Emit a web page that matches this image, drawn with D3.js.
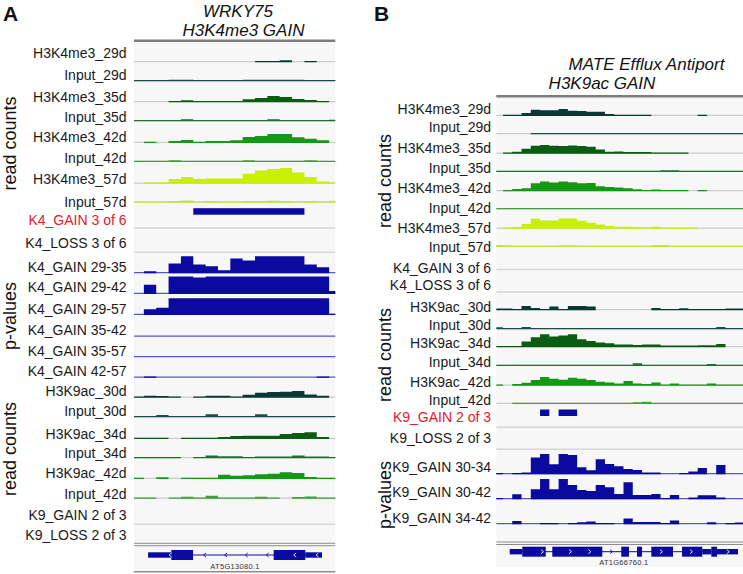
<!DOCTYPE html>
<html><head><meta charset="utf-8">
<script src="https://cdn.jsdelivr.net/npm/d3@7"></script>
<style>html,body{margin:0;padding:0;background:#fff}svg{display:block}</style>
</head><body><svg id="c" width="743" height="574"></svg>
<script>
// ---------------- DATA : panel A (WRKY75), 17 genomic bins ----------------
const binEdgesA = [0].concat(d3.range(80, 1630, 100), [1630]);
const A_K4_29 = [0,0,0,0,0,0,0,0,0,0,1,1,2,0,1,0,0];
const A_In_29 = [1,1,1,1.5,1.5,1,1,1,1,1.5,1.5,1.5,1.5,1.5,1,1,1];
const A_K4_35 = [0,0,0,1,2,1,1.3,0.7,1.3,3,4.3,6.3,5.3,3.3,2.3,1,0];
const A_In_35 = [1,1,1,1,2,1,1,1,1,1,1,2,1,1,1,1,1.5];
const A_K4_42 = [0,1,0,2,3,1.3,2,2,2.7,6,7,9,9,5.7,4.3,2.7,0];
const A_In_42 = [1,1,1,1.7,1,1,1,1,1,1.7,1,1,1,1,1.7,1,1];
const A_K4_57 = [0,1,1,4.7,6.7,4.7,5.3,5.3,5.3,10,13.3,14.7,15.7,11.3,6.7,2.3,1];
const A_In_57 = [1.3,1.3,1.3,1.7,2.3,1.3,1.7,1.3,1.3,1.7,1.7,2,1.7,1.3,1.7,1.3,2];
const A_P_29_35 = [0,2,0,9.7,17,8.7,7,3,14.7,12.7,17,17,17,17,8.7,6,0];
const A_P_29_42 = [0,9.3,0,17.5,17.5,16.5,17.5,17.5,17.5,17.5,17.5,17.5,17.5,17.5,17.5,17.5,3];
const A_P_29_57 = [0,5.7,7.3,16.7,16.7,16.7,16.7,16.7,16.7,16.7,16.7,16.7,16.7,16.7,16.7,16.7,1];
const A_P_35_42 = [0,0,0,0,0,0,0,0,0,0,0,0,0,0,0,0,0];
const A_P_35_57 = [0,0,0,0,0,0,0,0,0,0,0,0,0,0,0,0,0];
const A_P_42_57 = [0,1.3,0,0,0,0,0,0,0,0,0,0,0,0,0,0.7,0];
const A_K9_30 = [1,2,1.7,1,0,1,2,2,1.3,3,5,5.7,6,6.7,3.3,2,0];
const A_In_30 = [1,1,2.3,1,1,0.7,3,1,1,1,3,1,1.3,1.3,1.3,1.3,1];
const A_K9_34 = [0.7,0.7,0.7,0,1,1.3,1,2,3,3.3,3.3,3.3,5,6,6.7,2,0];
const A_In_34 = [1,1.3,1.3,1.3,0,1,2.7,2,2,1.3,1.7,1.7,1.7,2.7,1.7,1.7,1];
const A_K9_42 = [0.7,0,1.7,0,1,1,1,4.3,3.3,3.7,4.7,5.3,6.7,6,2,1,0.7];
const A_In42_K9 = [1,1,0,1,2,1.3,3,0.7,0.7,0.7,2,0.7,0,1.7,2.3,1,0.7];
const A_K4_GAIN_regions = [[480,1380]];
const geneA = {name:"AT5G13080.1", thin:[[114,302],[1387,1522]], thick:[[302,478],[1131,1387]], span:[114,1522], strand:-1,
  arrows:[294,573,744,911,1081,1303,1484]};

const trackNamesA = ["H3K4me3_29d","Input_29d","H3K4me3_35d","Input_35d","H3K4me3_42d","Input_42d","H3K4me3_57d","Input_57d",
  "K4_GAIN 3 of 6","K4_LOSS 3 of 6","K4_GAIN 29-35","K4_GAIN 29-42","K4_GAIN 29-57","K4_GAIN 35-42","K4_GAIN 35-57","K4_GAIN 42-57",
  "H3K9ac_30d","Input_30d","H3K9ac_34d","Input_34d","H3K9ac_42d","Input_42d","K9_GAIN 2 of 3","K9_LOSS 2 of 3"];
const trackValuesA = [A_K4_29,A_In_29,A_K4_35,A_In_35,A_K4_42,A_In_42,A_K4_57,A_In_57,
  A_K4_GAIN_regions,[],A_P_29_35,A_P_29_42,A_P_29_57,A_P_35_42,A_P_35_57,A_P_42_57,
  A_K9_30,A_In_30,A_K9_34,A_In_34,A_K9_42,A_In42_K9,[],[]];

// ---------------- DATA : panel B (MATE efflux), 27 genomic bins ----------------
const binEdgesB = [0].concat(d3.range(72, 2661, 100), [2661]);
const B_K4_29 = [0,0.7,1.3,3,6.3,5.7,5.7,7,5.3,5,4.3,4.3,2,1,0.7,0.7,0.7,0,0,0,0,0,1,0,0,0,0];
const B_In_29 = [0,0,0,0,1,1,0.7,0.7,0.7,0.7,0.7,0.7,0.7,0.7,0.7,0.7,0.7,0.7,0.7,0.7,0.7,0.7,0.7,0.7,0.7,0.7,1.3];
const B_K4_35 = [0,0.7,2,5,8,8.7,8,7.7,8.3,7.7,7,4.3,2,2.3,1.7,1.7,1.7,1,0.7,0.7,1.3,0,0,0,0,0,0];
const B_In_35 = [1,1,0.7,0.7,0.7,0.7,0.7,1.3,1.3,1.3,1.3,0.7,1.3,0.7,0.7,0.7,0.7,0.7,1.7,1.7,0.7,0.7,0.7,0.7,0.7,0.3,1];
const B_K4_42 = [0,0.7,2.3,3,8,9.7,8.7,9.7,9,8,8.3,5,4.3,3.7,3,2,1.3,1.7,1,0.7,0.7,0,0.7,0,0,0,0];
const B_In42_K4 = [0.7,1.3,0.7,0.7,1.3,1.3,0.7,0.7,0.7,0.7,0.7,0.7,0.7,0.7,0.7,0.7,0.7,0.7,0.7,0.7,0.7,0.7,0.7,0.7,0.7,1.3,0.7];
const B_K4_57 = [0,0.7,1.7,4.7,10,8.3,8.3,10.3,10.3,8,6,4.3,2.7,2,2,1.7,1.3,2,1,0.7,0.3,1,0,0,0,0,0];
const B_In_57 = [2,1.7,0.7,1,1.3,1,1.3,1.7,1.7,1.3,1.3,1,1,1,1,1.3,1.3,2,2,1.3,1.3,1.3,1.3,1,1,1,1];
const B_K9_30 = [1.7,1.7,0.7,4.3,2.3,1,3.7,1,4.3,4.3,3.7,0,0,0,0,0,0,2.3,1.3,1.3,2,0.7,0.3,0.7,1,1.7,1.7];
const B_In_30 = [2,1,1,2.3,1,1,1,1,1,1,1,1,1,1,1,1,1,1,1,1,1,1,1,1,2.3,1.3,1];
const B_K9_34 = [1.3,0.3,1,5.7,10,13,10.7,11.7,13,8,6.3,4.7,4,2.7,2.7,2.3,2.7,2.7,1.7,1.7,1.7,1.7,2,2,3.3,0,0];
const B_In_34 = [0.7,0.7,1.3,0.7,0.7,0.7,0.7,0.7,1.3,0.7,0.7,0.7,0.7,0.7,0.7,2.7,0.7,0.7,0.7,1.3,0.7,0.7,0.7,2,0.7,0.7,1.3];
const B_K9_42 = [1.3,0,1.7,3,5.7,8.7,7,6,8,7,5.7,4,3.3,2.3,4.7,2.3,1.7,3.3,1.3,2.3,1.3,1,1.3,2.3,1,0.7,0.7];
const B_In42_K9 = [0,0,0.7,0.7,1,0.7,0.7,0.7,0.7,0.7,0.7,1,0.7,1.3,0.7,1.7,2.3,0.7,0.7,0.7,1.3,1.3,0.7,0.7,0.7,0.7,0.7];
const B_P_30_34 = [1,0,1,1.7,16.7,20.3,10,20.3,19.3,7,4,15,10.3,8,5.3,4.3,1.7,1.7,0,0,1,2.7,6.3,0,9.3,0,0];
const B_P_30_42 = [0.7,0,5,0,10,20.3,10,20.3,14.3,9.3,8.3,14.3,12,5.3,17,4.3,4.3,5.3,0.7,4.3,0,1.7,4,4,1.7,0,0];
const B_P_34_42 = [0,0,3.3,0,0,0.7,1.3,0,1,2,2.7,0.7,1.3,0,5.7,2.3,2.3,2.3,1.3,3.7,0,0,0,2,0,1,1.7];
const B_K9_GAIN_regions = [[472,572],[672,872]];
const geneB = {name:"AT1G66760.1", thin:[[145,280],[2222,2319],[2381,2607]],
  thick:[[280,533],[604,1143],[1348,1431],[1518,1572],[1672,1906],[2003,2222],[2319,2381]], span:[145,2607], strand:1,
  arrows:[496,798,1007,1240,1779,2103,2500]};

const trackNamesB = ["H3K4me3_29d","Input_29d","H3K4me3_35d","Input_35d","H3K4me3_42d","Input_42d","H3K4me3_57d","Input_57d",
  "K4_GAIN 3 of 6","K4_LOSS 3 of 6","H3K9ac_30d","Input_30d","H3K9ac_34d","Input_34d","H3K9ac_42d","Input_42d",
  "K9_GAIN 2 of 3","K9_LOSS 2 of 3","K9_GAIN 30-34","K9_GAIN 30-42","K9_GAIN 34-42"];
const trackValuesB = [B_K4_29,B_In_29,B_K4_35,B_In_35,B_K4_42,B_In42_K4,B_K4_57,B_In_57,
  [],[],B_K9_30,B_In_30,B_K9_34,B_In_34,B_K9_42,B_In42_K9,
  B_K9_GAIN_regions,[],B_P_30_34,B_P_30_42,B_P_34_42];

// ---------------- LAYOUT ----------------
const layoutA = {
  base:  [62.3,81.3,102.3,121.3,143,162,183.7,202.7,228,252.3,273.3,294,315,336.7,357.3,377.7,397.7,417.3,439,458.3,479,498.7,524.3,543.3],
  label: [53,74.5,97,117,137,158,178.5,201.5,220,243,267,287,309,330,351,371,391,411,434,453,473,494,515,535],
  redIdx: 8, x0:134, x1:335.3, top:40.7, bottom:571.7, labelX:126.5, dataH:18, pvalH:17.7,
  geneY:555, geneLabelY:569, doubleLine:[543.3,545.7]
};
const layoutB = {
  base:  [116,134.3,153.7,172,191.3,209.3,228.7,247,269.5,292,310.3,329.3,347.3,366,385.7,404,427.3,449.3,474.3,499.3,524.3],
  label: [109,127,148,168,188,208,228,247,268,285,306.5,325,343,362,382,400,417,438,467,492,518],
  redIdx: 16, x0:496.3, x1:743, top:96.3, bottom:567, labelX:491, dataH:17, pvalH:24,
  geneY:551.7, geneLabelY:564.5, doubleLine:[542,544.5]
};

// ---------------- STYLE ----------------
function trackColor(name){
  const inp = name.startsWith("Input");
  if (/_(29|30)d/.test(name)) return inp ? "#1f4d47" : "#0c3832";
  if (/_(35|34)d/.test(name)) return inp ? "#226b32" : "#0a5c12";
  if (/_42d/.test(name)) return inp ? "#39a339" : "#149914";
  if (/_57d/.test(name)) return inp ? "#c4e63c" : "#c8f000";
  return "#0a0aa0";
}
const BLUE = "#0a0aa0";
const FONT = "'Liberation Sans', Arial, sans-serif";

const svg = d3.select("#c");

function drawPanel(names, values, edges, L, gene) {
  const g = svg.append("g");
  const x = d3.scaleLinear().domain([edges[0], edges[edges.length-1]]).range([L.x0, L.x1]);
  g.append("rect").attr("x", L.x0).attr("y", L.top).attr("width", L.x1 - L.x0)
    .attr("height", L.bottom - L.top).attr("fill", "#f7f7f7");
  g.append("line").attr("x1", L.x0).attr("x2", L.x1).attr("y1", L.top).attr("y2", L.top)
    .attr("stroke", "#7d7d7d").attr("stroke-width", 2.6);

  names.forEach((name, i) => {
    const base = L.base[i];
    const prev = i === 0 ? L.top : L.base[i-1];
    g.append("text").attr("x", L.labelX).attr("y", L.label[i] + 5).attr("text-anchor", "end")
      .attr("fill", i === L.redIdx ? "#e3202c" : "#1a1a1a")
      .style("font-family", FONT).style("font-size", "14px").text(name);
    const isRegion = / of /.test(name);
    const isPval = /GAIN \d/.test(name);
    if (isRegion) {
      if (name.startsWith("K9_LOSS") && names === trackNamesA) return; // double line handled separately
      g.append("line").attr("x1", L.x0).attr("x2", L.x1).attr("y1", base).attr("y2", base)
        .attr("stroke", "#d6d6d6").attr("stroke-width", 1.5);
      g.selectAll(null).data(values[i]).join("rect")
        .attr("x", d => x(d[0])).attr("width", d => x(d[1]) - x(d[0]))
        .attr("y", prev + 5.5).attr("height", 6.5).attr("fill", BLUE);
      return;
    }
    const h = isPval ? L.pvalH : L.dataH;
    const y = d3.scaleLinear().domain([0, h]).range([base, base - h]).clamp(true);
    const col = trackColor(name);
    g.append("line").attr("x1", L.x0).attr("x2", L.x1).attr("y1", base - 0.6).attr("y2", base - 0.6)
      .attr("stroke", isPval ? "#5656cc" : "#cbcbcb").attr("stroke-width", 1.2);
    const pts = values[i].flatMap((v, k) => [{x: edges[k], v}, {x: edges[k+1], v}]);
    const area = d3.area().x(d => x(d.x)).y0(base)
      .y1(d => d.v > 0 ? Math.min(y(d.v), base - 1.3) : base);
    g.append("path").datum(pts).attr("d", area).attr("fill", col);
  });

  // gene track
  L.doubleLine.forEach(yy => g.append("line").attr("x1", L.x0).attr("x2", L.x1)
    .attr("y1", yy).attr("y2", yy).attr("stroke", "#8c8c8c").attr("stroke-width", 1));
  const gy = L.geneY;
  g.append("line").attr("x1", x(gene.span[0])).attr("x2", x(gene.span[1])).attr("y1", gy).attr("y2", gy)
    .attr("stroke", BLUE).attr("stroke-width", 1);
  g.selectAll(null).data(gene.thin).join("rect").attr("x", d => x(d[0])).attr("width", d => x(d[1]) - x(d[0]))
    .attr("y", gy - 2.7).attr("height", 5.4).attr("fill", BLUE);
  g.selectAll(null).data(gene.thick).join("rect").attr("x", d => x(d[0])).attr("width", d => x(d[1]) - x(d[0]))
    .attr("y", gy - 5).attr("height", 10).attr("fill", BLUE);
  const inBox = p => gene.thin.concat(gene.thick).some(r => p >= r[0] && p <= r[1]);
  g.selectAll(null).data(gene.arrows).join("path")
    .attr("d", d => { const cx = x(d), s = gene.strand; return `M${cx - 1.2*s},${gy-2}L${cx + 1.2*s},${gy}L${cx - 1.2*s},${gy+2}`; })
    .attr("fill", "none").attr("stroke", d => inBox(d) ? "#ffffff" : BLUE).attr("stroke-width", 0.9);
  g.append("text").attr("x", x((gene.span[0] + gene.span[1]) / 2)).attr("y", L.geneLabelY)
    .attr("text-anchor", "middle").attr("fill", "#333").style("font-family", FONT)
    .style("font-size", "7.5px").style("letter-spacing", "0.3px").text(gene.name);
}

drawPanel(trackNamesA, trackValuesA, binEdgesA, layoutA, geneA);
drawPanel(trackNamesB, trackValuesB, binEdgesB, layoutB, geneB);
// panel A bottom line
svg.append("line").attr("x1", layoutA.x0).attr("x2", layoutA.x1).attr("y1", layoutA.bottom).attr("y2", layoutA.bottom)
  .attr("stroke", "#8c8c8c").attr("stroke-width", 1.5);

// ---------------- TEXT ----------------
function txt(x, y, s, size, opts = {}) {
  const t = svg.append("text").attr("x", x).attr("y", y).text(s).style("font-family", FONT)
    .style("font-size", size + "px").attr("fill", "#111");
  if (opts.anchor) t.attr("text-anchor", opts.anchor);
  if (opts.italic) t.style("font-style", "italic");
  if (opts.bold) t.style("font-weight", "bold");
  if (opts.rotate) t.attr("transform", `rotate(-90,${x},${y})`);
  return t;
}
txt(3, 21, "A", 21, {bold: true});
txt(374, 21, "B", 21, {bold: true});
txt(238, 16.5, "WRKY75", 17, {anchor: "middle", italic: true});
txt(243.5, 36, "H3K4me3 GAIN", 17, {anchor: "middle", italic: true});
txt(646.5, 69.5, "MATE Efflux Antiport", 17, {anchor: "middle", italic: true});
txt(602, 89, "H3K9ac GAIN", 17, {anchor: "middle", italic: true});
txt(16, 143.5, "read counts", 18, {anchor: "middle", rotate: true});
txt(16, 316, "p-values", 18, {anchor: "middle", rotate: true});
txt(16, 449, "read counts", 18, {anchor: "middle", rotate: true});
txt(390.5, 181, "read counts", 18, {anchor: "middle", rotate: true});
txt(390.5, 355, "read counts", 18, {anchor: "middle", rotate: true});
txt(390.5, 495, "p-values", 18, {anchor: "middle", rotate: true});
</script></body></html>
